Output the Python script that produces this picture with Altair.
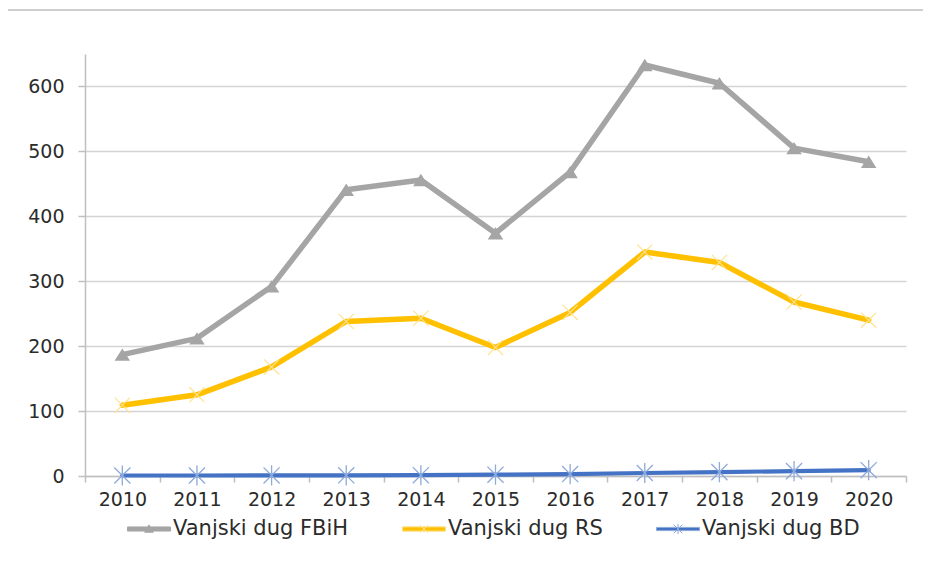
import altair as alt
import pandas as pd

# ---- data ----
years = ["2010", "2011", "2012", "2013", "2014", "2015", "2016", "2017", "2018", "2019", "2020"]
fbih = [187, 212, 292, 441, 456, 374, 468, 633, 605, 505, 484]
rs = [109, 125, 168, 238, 243, 198, 252, 345, 329, 268, 240]
bd = [0.8, 0.8, 0.9, 1.0, 1.2, 2.0, 3.0, 4.6, 6.0, 7.5, 9.0]
series_names = ["Vanjski dug FBiH", "Vanjski dug RS", "Vanjski dug BD"]

# ---- styling ----
line_colors = ["#A5A5A5", "#FFC000", "#4472C4"]
marker_strokes = ["#A5A5A5", "#FFE28F", "#8EA9DB"]
line_widths = [5.5, 5.5, 4.2]
FONT = "DejaVu Sans"
TEXT = "#2b2b2b"

tri_path = "M0,-0.8L1,0.8L-1,0.8Z"
x_path = "M-1,-1L1,1M-1,1L1,-1"
star_path = "M-1,-1L1,1M-1,1L1,-1M0,-1.25L0,1.25"

legend_paths = [
    "M-1,-0.095H1V0.095H-1ZM0,-0.19L0.2,0.15L-0.2,0.15Z",
    "M-1,-0.1H1V0.1H-1ZM-0.18,-0.18L0.18,0.18M-0.18,0.18L0.18,-0.18",
    "M-1,-0.075H1V0.075H-1ZM-0.2,-0.2L0.2,0.2M-0.2,0.2L0.2,-0.2M0,-0.24L0,0.24",
]

rows = []
for name, vals in zip(series_names, [fbih, rs, bd]):
    for yr, v in zip(years, vals):
        rows.append({"year": yr, "value": v, "series": name})
df = pd.DataFrame(rows)

x_enc = alt.X(
    "year:O",
    scale=alt.Scale(type="band", paddingInner=0, paddingOuter=0),
    axis=alt.Axis(
        title=None, labelAngle=0, tickBand="extent", grid=False,
        tickSize=6, labelPadding=8, labelFont=FONT, labelFontSize=19,
        labelColor=TEXT, domainColor="#BFBFBF", tickColor="#BFBFBF",
        domainWidth=1.5, tickWidth=1.5,
    ),
)
y_enc = alt.Y(
    "value:Q",
    scale=alt.Scale(domain=[0, 650], nice=False),
    axis=alt.Axis(
        title=None, values=[0, 100, 200, 300, 400, 500, 600], grid=True,
        gridColor="#D4D4D4", gridWidth=1.4, tickSize=7, labelPadding=14,
        labelFont=FONT, labelFontSize=19, labelColor=TEXT,
        domainColor="#BFBFBF", tickColor="#BFBFBF", domainWidth=1.5, tickWidth=1.5,
    ),
)

base = alt.Chart(df)

line_layers = []
for i, name in enumerate(series_names):
    line_layers.append(
        base.transform_filter(alt.datum.series == name)
        .mark_line(strokeJoin="round", strokeCap="round", color=line_colors[i], strokeWidth=line_widths[i])
        .encode(x=x_enc, y=y_enc)
    )

m_fbih = base.transform_filter(alt.datum.series == series_names[0]).mark_point(
    shape=tri_path, size=240, filled=True, color=line_colors[0], opacity=1
).encode(x=x_enc, y=y_enc)
m_rs = base.transform_filter(alt.datum.series == series_names[1]).mark_point(
    shape=x_path, size=230, filled=False, stroke=marker_strokes[1], strokeWidth=1.2, opacity=1
).encode(x=x_enc, y=y_enc)
m_bd = base.transform_filter(alt.datum.series == series_names[2]).mark_point(
    shape=star_path, size=260, filled=False, stroke=marker_strokes[2], strokeWidth=1.3, opacity=1
).encode(x=x_enc, y=y_enc)

leg = dict(
    title=None, orient="none", legendX=42, legendY=453, direction="horizontal",
    columns=3, symbolSize=1849, symbolOpacity=1, symbolStrokeWidth=1,
    labelFont=FONT, labelFontSize=21, labelColor=TEXT, labelLimit=400,
    labelOffset=2, columnPadding=51, padding=0,
)
legend_layer = base.mark_point(filled=True, opacity=0).encode(
    x=x_enc,
    y=y_enc,
    fill=alt.Fill("series:N", scale=alt.Scale(domain=series_names, range=line_colors), legend=alt.Legend(**leg)),
    stroke=alt.Stroke("series:N", scale=alt.Scale(domain=series_names, range=marker_strokes), legend=alt.Legend(**leg)),
    shape=alt.Shape("series:N", scale=alt.Scale(domain=series_names, range=legend_paths), legend=alt.Legend(**leg)),
)

border = alt.Chart(pd.DataFrame({"a": [0]})).mark_rule(color="#BFBFBF", strokeWidth=1.5).encode(
    x=alt.value(-77), x2=alt.value(840), y=alt.value(-44)
)

chart = alt.layer(*line_layers, m_fbih, m_rs, m_bd, legend_layer, border).properties(
    width=821,
    height=422,
    padding={"left": 77, "top": 46, "right": 17, "bottom": 81},
    autosize=alt.AutoSizeParams(type="none"),
    background="white",
).configure_view(stroke=None)

chart.save("out.html", embed_options={"renderer": "svg", "actions": False})
